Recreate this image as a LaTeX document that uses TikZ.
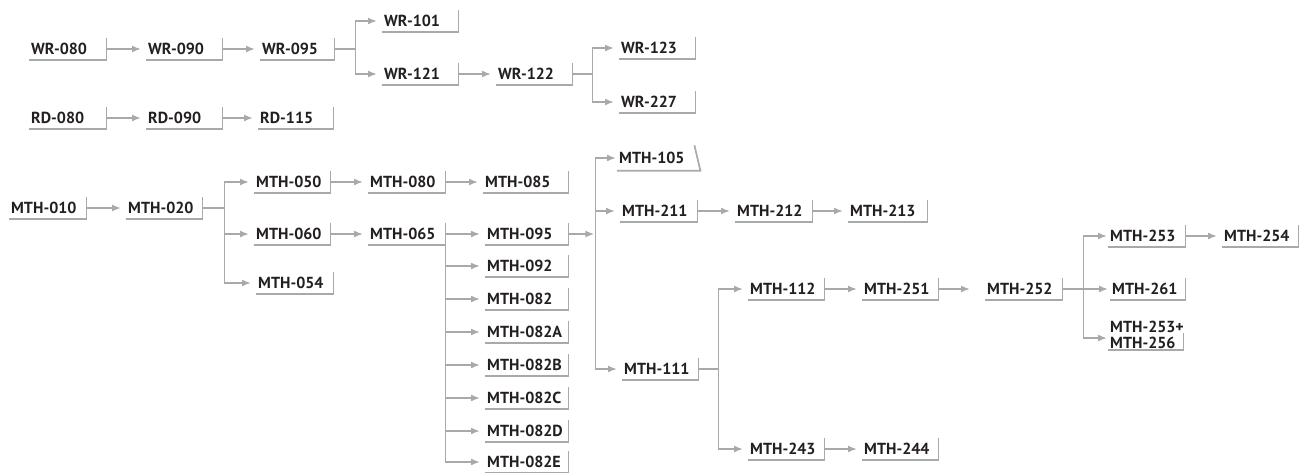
\documentclass[tikz,border=0pt]{standalone}
\usepackage{fontspec}
\setmainfont{PT Sans}
\usetikzlibrary{arrows.meta}
\definecolor{ink}{HTML}{231F20}
\definecolor{rule}{HTML}{A7A9AC}

\begin{document}
\begin{tikzpicture}[x=1pt,y=-1pt,
  course/.style={anchor=west,text width=#1pt,align=left,minimum height=21pt,
    inner xsep=2pt,inner ysep=1.5pt,text=ink,
    font=\fontsize{16}{15.5}\selectfont\bfseries,
    execute at begin node={\exhyphenpenalty=10000 \hbadness=10000 }},
  course/.default=72,
  arr/.style={draw=rule,line width=1.7pt,-{Latex[length=9pt,width=7pt]},shorten >=5pt},
  link/.style={draw=rule,line width=1.7pt},
  border/.style={draw=rule,line width=1.7pt}]
\useasboundingbox (0,0) rectangle (1307,472);

% writing
\node[course=73] (wr080) at (29,49) {WR-080};
\node[course] (wr090) at (146,49) {WR-090};
\node[course=70] (wr095) at (260,49) {WR-095};
\node[course] (wr101) at (382,21) {WR-101};
\node[course] (wr121) at (382,74) {WR-121};
\node[course] (wr122) at (496,74) {WR-122};
\node[course] (wr123) at (619,48) {WR-123};
\node[course] (wr227) at (619,102) {WR-227};
\coordinate (j1) at ([xshift=21pt]wr095.east);
\coordinate (j2) at ([xshift=20pt]wr122.east);
\draw[arr] (wr080) -- (wr090);
\draw[arr] (wr090) -- (wr095);
\draw[link] (wr095) -- (j1);
\draw[arr] (j1) |- (wr101);
\draw[arr] (j1) |- (wr121);
\draw[arr] (wr121) -- (wr122);
\draw[link] (wr122) -- (j2);
\draw[arr] (j2) |- (wr123);
\draw[arr] (j2) |- (wr227);

% reading
\node[course=73] (rd080) at (29,118) {RD-080};
\node[course] (rd090) at (146,118) {RD-090};
\node[course=71] (rd115) at (258,118) {RD-115};
\draw[arr] (rd080) -- (rd090);
\draw[arr] (rd090) -- (rd115);

% math
\node[course=73] (m010) at (9,208) {MTH-010};
\node[course] (m020) at (126,208) {MTH-020};
\node[course] (m050) at (254,182) {MTH-050};
\node[course] (m060) at (254,234) {MTH-060};
\node[course=73] (m054) at (256,283) {MTH-054};
\node[course=73] (m080) at (368,182) {MTH-080};
\node[course=81] (m085) at (483,182) {MTH-085};
\node[course=73] (m065) at (368,234) {MTH-065};
\node[course=79] (m095) at (485,234) {MTH-095};
\node[course=79] (m092) at (485,266) {MTH-092};
\node[course=79] (m082) at (485,299) {MTH-082};
\node[course=79] (m082a) at (485,332) {MTH-082A};
\node[course=79] (m082b) at (485,365) {MTH-082B};
\node[course=79] (m082c) at (485,398) {MTH-082C};
\node[course=79] (m082d) at (485,431) {MTH-082D};
\node[course=79] (m082e) at (485,462) {MTH-082E};
\node[course=79,minimum height=25pt] (m105) at (617,158) {MTH-105};
\node[course=73] (m211) at (620,211) {MTH-211};
\node[course=73] (m212) at (735,211) {MTH-212};
\node[course=75] (m213) at (848,211) {MTH-213};
\node[course] (m111) at (622,369) {MTH-111};
\node[course] (m112) at (748,289) {MTH-112};
\node[course] (m243) at (748,449) {MTH-243};
\node[course] (m251) at (862,289) {MTH-251};
\node[course] (m244) at (862,449) {MTH-244};
\node[course=73] (m252) at (985,289) {MTH-252};
\node[course=73] (m253) at (1108,236) {MTH-253};
\node[course] (m254) at (1222,236) {MTH-254};
\node[course=71] (m261) at (1110,289) {MTH-261};
\node[course=71,anchor=south west,minimum height=0pt] (m253p) at (1108,350)
  {MTH-253+\\MTH-256};

\coordinate (j3) at ([xshift=22pt]m020.east);
\coordinate (j4) at ([xshift=27pt]m095.east);
\coordinate (j5) at ([xshift=20pt]m111.east);
\coordinate (j6) at ([xshift=21pt]m252.east);
\coordinate (k) at ([yshift=12pt]m253p.south west);

\draw[arr] (m010) -- (m020);
\draw[link] (m020) -- (j3);
\draw[arr] (j3) |- (m050);
\draw[arr] (j3) |- (m060);
\draw[arr] (j3) |- (m054);
\draw[arr] (m050) -- (m080);
\draw[arr] (m080) -- (m085);
\draw[arr] (m060) -- (m065);
\draw[arr] (m065) -- (m095);
\draw[link] (m065.south east) -- (m065.east |- m082e);
\foreach \n in {m092,m082,m082a,m082b,m082c,m082d,m082e}
  \draw[arr] (m065.east |- \n) -- (\n);
\draw[arr,shorten >=1pt] (m095) -- (j4);
\draw[link] (j4 |- m105) -- (j4 |- m111);
\draw[arr,shorten >=1pt] (j4 |- m105) -- (m105);
\draw[arr] (j4 |- m211) -- (m211);
\draw[arr] (j4 |- m111) -- (m111);
\draw[arr] (m211) -- (m212);
\draw[arr] (m212) -- (m213);
\draw[link] (m111) -- (j5);
\draw[arr] (j5) |- (m112);
\draw[arr] (j5) |- (m243);
\draw[arr] (m112) -- (m251);
\draw[arr] (m243) -- (m244);
\draw[arr,shorten >=15pt] (m251) -- (m252);
\draw[arr,shorten >=2pt] (m252) -- (m261);
\draw[arr,shorten >=1pt] (j6 |- m253) |- (k);
\draw[arr,shorten >=1pt] (j6 |- m253) -- (m253);
\draw[arr] (m253) -- (m254);

% borders
\foreach \n in {wr080,wr090,wr095,wr101,wr121,wr122,wr123,wr227,rd080,rd090,rd115,
  m010,m020,m050,m060,m054,m080,m085,m065,m095,m092,m082,m082a,m082b,m082c,m082d,m082e,
  m211,m212,m213,m111,m112,m243,m251,m244,m252,m253,m254,m261}
  \draw[border] (\n.south west) -- (\n.south east) -- (\n.north east);
\draw[border] (m105.south west) -- (m105.south east) -- ([xshift=-6pt]m105.north east);
\draw[border] (m253p.south west) -- (m253p.south east) -- ([yshift=17pt]m253p.south east);
\end{tikzpicture}
\end{document}
